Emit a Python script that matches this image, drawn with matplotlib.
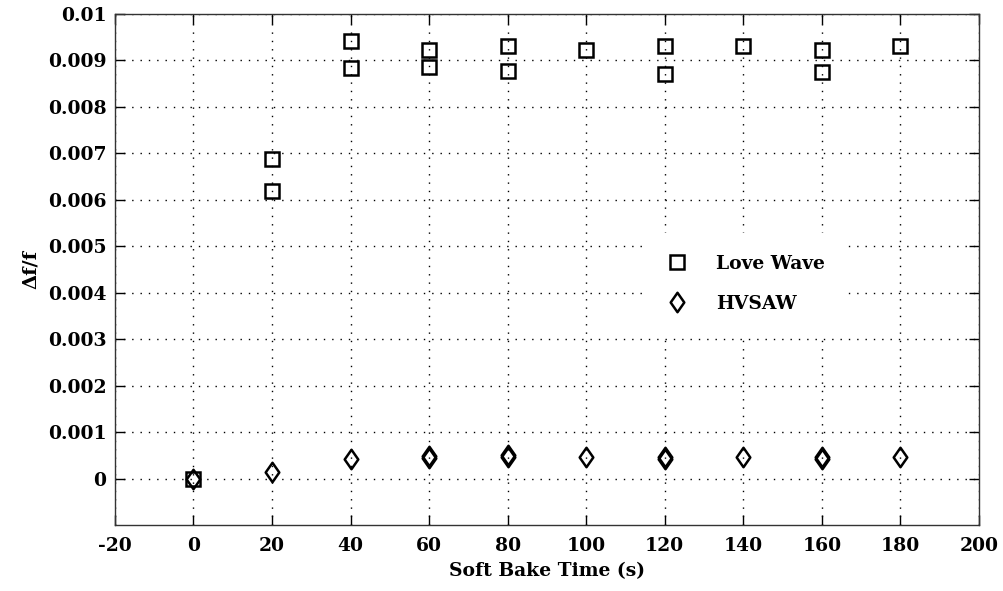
import matplotlib
matplotlib.use("Agg")
import matplotlib.pyplot as plt
from matplotlib.path import Path
import numpy as np

# Soft bake times (s) and measured fractional frequency shifts
love_time = [0, 20, 20, 40, 40, 60, 60, 80, 80, 100, 120, 120, 140, 160, 160, 180]
love_shift = [0.0, 0.00688, 0.00620, 0.00942, 0.00884, 0.00922, 0.00885,
              0.00932, 0.00877, 0.00922, 0.00932, 0.00870, 0.00932,
              0.00922, 0.00876, 0.00932]

hvsaw_time = [0, 20, 40, 60, 60, 80, 80, 100, 120, 120, 140, 160, 160, 180]
hvsaw_shift = [0.0, 0.00013, 0.00043, 0.00044, 0.00048, 0.00046, 0.00050,
               0.00047, 0.00043, 0.00046, 0.00047, 0.00042, 0.00046, 0.00047]

x_ticks = [-20, 0, 20, 40, 60, 80, 100, 120, 140, 160, 180, 200]
y_ticks = [0, 0.001, 0.002, 0.003, 0.004, 0.005, 0.006, 0.007, 0.008, 0.009, 0.01]
y_tick_labels = ["0", "0.001", "0.002", "0.003", "0.004", "0.005", "0.006",
                 "0.007", "0.008", "0.009", "0.01"]

plt.rcParams["font.family"] = ["DejaVu Serif"]
plt.rcParams["font.weight"] = "bold"
plt.rcParams["axes.labelweight"] = "bold"
plt.rcParams["axes.unicode_minus"] = False

# Diamond slightly wider than matplotlib's thin diamond
diamond = Path([(0, 1), (0.7, 0), (0, -1), (-0.7, 0), (0, 1)],
               [Path.MOVETO, Path.LINETO, Path.LINETO, Path.LINETO, Path.CLOSEPOLY])

fig = plt.figure(figsize=(10.04, 5.91), dpi=100)
ax = fig.add_axes([0.1145, 0.1117, 0.8605, 0.8646])

ax.plot(love_time, love_shift, linestyle="none", marker="s", markersize=9.5,
        markerfacecolor="none", markeredgecolor="black", markeredgewidth=1.8,
        label="Love Wave", zorder=3)
ax.plot(hvsaw_time, hvsaw_shift, linestyle="none", marker=diamond, markersize=14,
        markerfacecolor="none", markeredgecolor="black", markeredgewidth=1.8,
        label="HVSAW", zorder=3)

ax.set_xlim(-20, 200)
ax.set_ylim(-0.001, 0.01)
ax.set_xticks(x_ticks)
ax.set_yticks(y_ticks)
ax.set_yticklabels(y_tick_labels)

ax.grid(True, color="black", linestyle=(0, (1, 5)), linewidth=1.0)
ax.set_axisbelow(True)

ax.tick_params(direction="in", length=7, width=1.0, top=True, right=True,
               labelsize=13.5, colors="black")
ax.tick_params(axis="x", pad=9)
ax.tick_params(axis="y", pad=6)
for s in ax.spines.values():
    s.set_linewidth(1.0)
    s.set_color("#333333")

ax.set_xlabel("Soft Bake Time (s)", fontsize=13.5, labelpad=5)
ax.set_ylabel("Δf/f", fontsize=14, labelpad=6)

leg = ax.legend(loc="center", bbox_to_anchor=(0.731, 0.472), frameon=True,
                fontsize=13.5, labelspacing=1.15, handlelength=1.0,
                handletextpad=1.6, borderpad=1.15, fancybox=False)
leg.get_frame().set_edgecolor("white")
leg.get_frame().set_facecolor("white")
leg.get_frame().set_alpha(1.0)

fig.savefig("out.png", dpi=100)
